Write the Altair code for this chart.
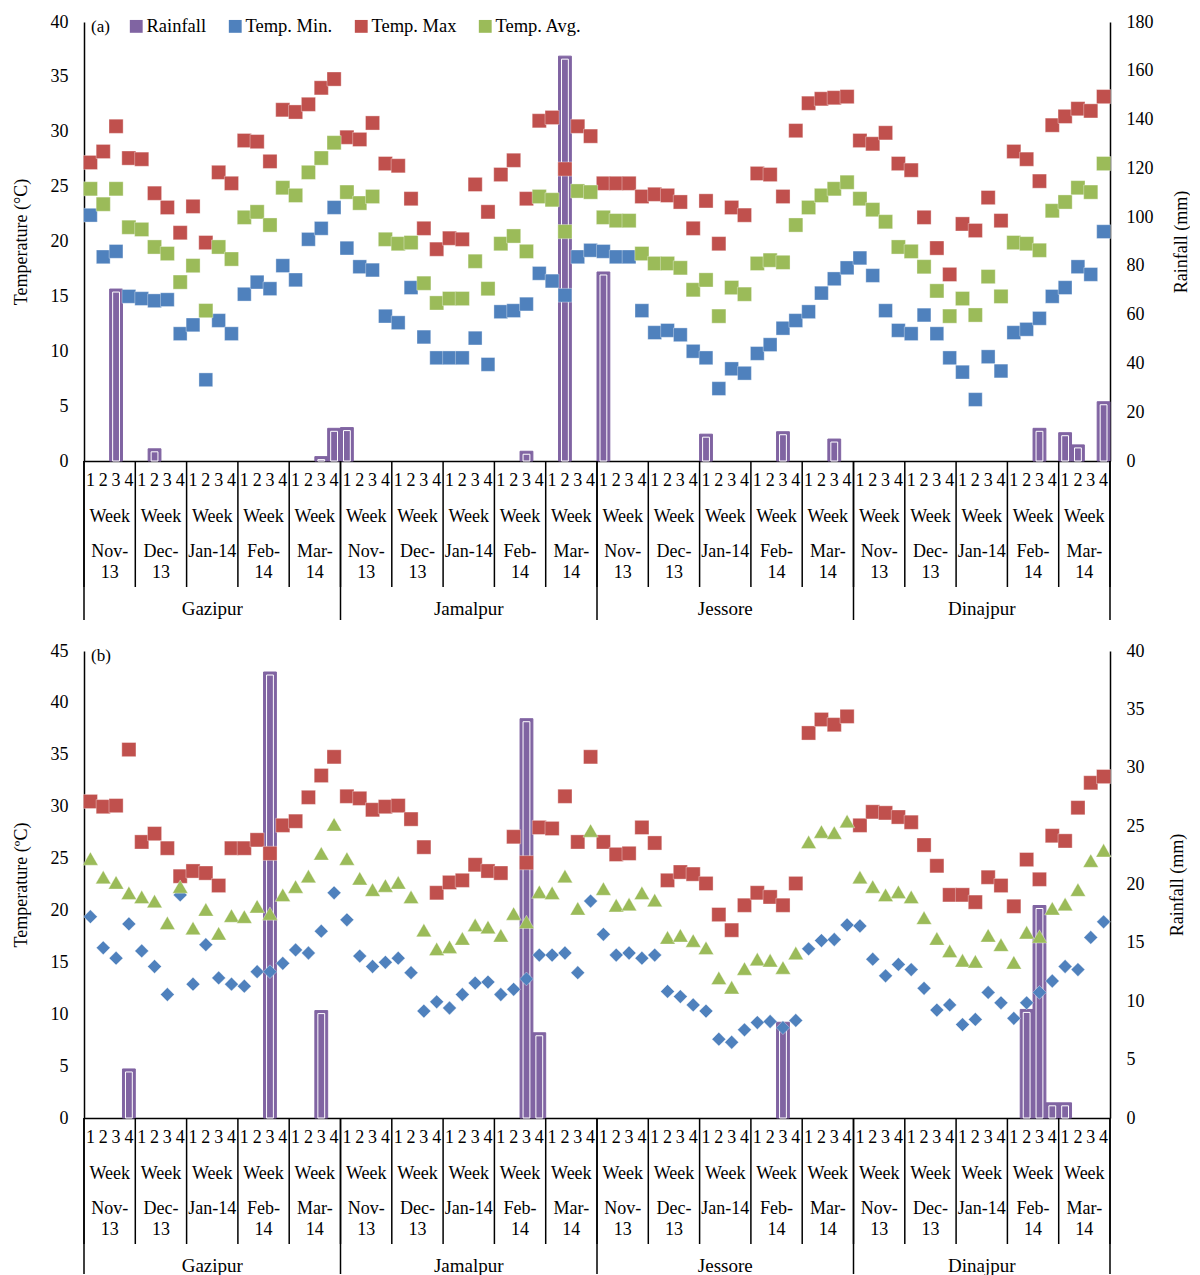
import altair as alt
import pandas as pd

FONT = "Liberation Serif"
PURPLE = "#8064A2"
BLUE = "#4F81BD"
RED = "#C0504D"
GREEN = "#9BBB59"

stations = ["Gazipur", "Jamalpur", "Jessore", "Dinajpur"]
months = ["Nov-13", "Dec-13", "Jan-14", "Feb-14", "Mar-14"]
month_top = ["Nov-", "Dec-", "Jan-14", "Feb-", "Mar-"]
month_bottom = ["13", "13", "", "14", "14"]
week_numbers = [1, 2, 3, 4]
week_word = "Week"
legend_names = ["Rainfall", "Temp. Min.", "Temp. Max", "Temp. Avg."]
legend_colors = [PURPLE, BLUE, RED, GREEN]

# ---------------- panel (a) ----------------
a_tmin = [22.4, 18.6, 19.1, 15.0, 14.8, 14.6, 14.7, 11.6, 12.4, 7.4, 12.8, 11.6, 15.2, 16.3, 15.7, 17.8, 16.5, 20.2, 21.2, 23.1,
          19.4, 17.7, 17.4, 13.2, 12.6, 15.8, 11.3, 9.4, 9.4, 9.4, 11.2, 8.8, 13.6, 13.7, 14.3, 17.1, 16.4, 15.1, 18.6, 19.2,
          19.1, 18.6, 18.6, 13.7, 11.7, 11.9, 11.5, 10.0, 9.4, 6.6, 8.4, 8.0, 9.8, 10.6, 12.1, 12.8, 13.6, 15.3, 16.6, 17.6,
          18.5, 16.9, 13.7, 11.9, 11.6, 13.3, 11.6, 9.4, 8.1, 5.6, 9.5, 8.2, 11.7, 12.0, 13.0, 15.0, 15.8, 17.7, 17.0, 20.9]
a_tmax = [27.2, 28.2, 30.5, 27.6, 27.5, 24.4, 23.1, 20.8, 23.2, 19.9, 26.3, 25.3, 29.2, 29.1, 27.3, 32.0, 31.8, 32.5, 34.0, 34.8,
          29.5, 29.3, 30.8, 27.1, 26.9, 23.9, 21.2, 19.3, 20.3, 20.2, 25.2, 22.7, 26.1, 27.4, 23.9, 31.0, 31.3, 26.6, 30.5, 29.6,
          25.3, 25.3, 25.3, 24.1, 24.3, 24.2, 23.6, 21.2, 23.7, 19.8, 23.1, 22.4, 26.2, 26.1, 24.1, 30.1, 32.6, 33.0, 33.1, 33.2,
          29.2, 28.9, 29.9, 27.1, 26.5, 22.2, 19.4, 17.0, 21.6, 21.0, 24.0, 21.9, 28.2, 27.5, 25.5, 30.6, 31.4, 32.1, 31.9, 33.2]
a_tavg = [24.8, 23.4, 24.8, 21.3, 21.1, 19.5, 18.9, 16.3, 17.8, 13.7, 19.5, 18.4, 22.2, 22.7, 21.5, 24.9, 24.2, 26.3, 27.6, 29.0,
          24.5, 23.5, 24.1, 20.2, 19.8, 19.9, 16.2, 14.4, 14.8, 14.8, 18.2, 15.7, 19.8, 20.5, 19.1, 24.1, 23.8, 20.9, 24.6, 24.5,
          22.2, 21.9, 21.9, 18.9, 18.0, 18.0, 17.6, 15.6, 16.5, 13.2, 15.8, 15.2, 18.0, 18.3, 18.1, 21.5, 23.1, 24.2, 24.8, 25.4,
          23.9, 22.9, 21.8, 19.5, 19.1, 17.7, 15.5, 13.2, 14.8, 13.3, 16.8, 15.0, 19.9, 19.8, 19.2, 22.8, 23.6, 24.9, 24.5, 27.1]
a_rain = [0, 0, 70.5, 0, 0, 5, 0, 0, 0, 0, 0, 0, 0, 0, 0, 0, 0, 0, 1.8, 13.4,
          13.7, 0, 0, 0, 0, 0, 0, 0, 0, 0, 0, 0, 0, 0, 4, 0, 0, 166, 0, 0,
          77.5, 0, 0, 0, 0, 0, 0, 0, 11, 0, 0, 0, 0, 0, 12, 0, 0, 0, 9, 0,
          0, 0, 0, 0, 0, 0, 0, 0, 0, 0, 0, 0, 0, 0, 13.4, 0, 11.6, 6.6, 0, 24.3]

# ---------------- panel (b) ----------------
b_tmin = [19.4, 16.4, 15.4, 18.7, 16.1, 14.6, 11.9, 21.5, 12.9, 16.7, 13.5, 12.9, 12.7, 14.1, 14.1, 14.9, 16.2, 15.9, 18.0, 21.7,
          19.1, 15.6, 14.6, 15.0, 15.4, 14.0, 10.3, 11.2, 10.6, 11.9, 13.0, 13.1, 11.9, 12.4, 13.4, 15.7, 15.7, 15.9, 14.0, 20.9,
          17.7, 15.7, 15.9, 15.4, 15.7, 12.2, 11.7, 10.9, 10.3, 7.6, 7.3, 8.5, 9.2, 9.3, 8.7, 9.4, 16.3, 17.1, 17.2, 18.6,
          18.5, 15.3, 13.7, 14.8, 14.3, 12.5, 10.4, 10.9, 9.0, 9.5, 12.1, 11.1, 9.6, 11.1, 12.1, 13.2, 14.6, 14.3, 17.4, 18.9]
b_tmax = [30.5, 30.0, 30.1, 35.5, 26.6, 27.4, 26.0, 23.3, 23.8, 23.6, 22.4, 26.0, 26.0, 26.8, 25.5, 28.2, 28.6, 30.9, 33.0, 34.8,
          31.0, 30.8, 29.7, 30.0, 30.1, 28.8, 26.1, 21.7, 22.7, 22.9, 24.4, 23.8, 23.6, 27.1, 24.6, 28.0, 27.9, 31.0, 26.6, 34.8,
          26.6, 25.4, 25.5, 28.0, 26.5, 22.9, 23.7, 23.5, 22.6, 19.6, 18.1, 20.5, 21.7, 21.3, 20.5, 22.6, 37.1, 38.4, 37.9, 38.7,
          28.2, 29.5, 29.4, 29.0, 28.5, 26.3, 24.3, 21.5, 21.5, 20.8, 23.2, 22.4, 20.4, 24.9, 23.0, 27.2, 26.7, 29.9, 32.3, 32.9]
b_tavg = [25.0, 23.2, 22.7, 21.7, 21.3, 20.9, 18.8, 22.3, 18.3, 20.1, 17.8, 19.5, 19.4, 20.4, 19.7, 21.5, 22.3, 23.3, 25.5, 28.3,
          25.0, 23.1, 22.0, 22.4, 22.7, 21.3, 18.1, 16.3, 16.5, 17.3, 18.6, 18.4, 17.6, 19.7, 18.9, 21.8, 21.7, 23.3, 20.2, 27.7,
          22.1, 20.5, 20.6, 21.7, 21.0, 17.4, 17.6, 17.1, 16.4, 13.5, 12.6, 14.4, 15.3, 15.2, 14.5, 15.9, 26.6, 27.6, 27.5, 28.6,
          23.2, 22.3, 21.5, 21.8, 21.3, 19.3, 17.3, 16.1, 15.2, 15.1, 17.6, 16.7, 15.0, 17.9, 17.5, 20.2, 20.6, 22.0, 24.8, 25.8]
b_rain = [0, 0, 0, 4.2, 0, 0, 0, 0, 0, 0, 0, 0, 0, 0, 38.2, 0, 0, 0, 9.2, 0,
          0, 0, 0, 0, 0, 0, 0, 0, 0, 0, 0, 0, 0, 0, 34.2, 7.3, 0, 0, 0, 0,
          0, 0, 0, 0, 0, 0, 0, 0, 0, 0, 0, 0, 0, 0, 8.2, 0, 0, 0, 0, 0,
          0, 0, 0, 0, 0, 0, 0, 0, 0, 0, 0, 0, 0, 9.3, 18.2, 1.3, 1.3, 0, 0, 0]

NW = len(week_numbers)
NM = len(months)
N = len(stations) * NM * NW

# label tables (derived from the category lists)
week_df = pd.DataFrame({"xc": [i + 0.5 for i in range(N)],
                        "label": [str(week_numbers[i % NW]) for i in range(N)]})
mrows = []
for s in range(len(stations)):
    for m in range(NM):
        k = s * NM + m
        mrows.append({"xc": k * NW + NW / 2, "word": week_word,
                      "top": month_top[m], "bottom": month_bottom[m]})
month_df = pd.DataFrame(mrows)
station_df = pd.DataFrame({"xc": [s * NM * NW + NM * NW / 2 for s in range(len(stations))],
                           "name": stations})
bound_df = pd.DataFrame({"x": [k * NW for k in range(len(stations) * NM + 1)]})
bound_df["station"] = bound_df["x"] % (NM * NW) == 0


def panel(tmin, tmax, tavg, rain, h, tdom, rdom, rstep, ttitle, tag, show_legend,
          shapes, sizes, rtitle_pad, st_line_end, st_text):
    rain_df = pd.DataFrame({"x0": list(range(N)), "x1": [i + 1 for i in range(N)],
                            "rain": rain, "base": [0] * N, "series": ["Rainfall"] * N})
    trows = []
    for name, vals in zip(legend_names[1:], [tmin, tmax, tavg]):
        for i, v in enumerate(vals):
            trows.append({"xc": i + 0.5, "value": v, "series": name})
    temp_df = pd.DataFrame(trows)

    xs = alt.Scale(domain=[0, N], nice=False, zero=False)
    xaxis = alt.Axis(labels=False, ticks=False, grid=False, title=None,
                     domainColor="black", domainWidth=1.5)

    def X(f):
        return alt.X(f, type="quantitative", scale=xs, axis=xaxis)

    cs = alt.Scale(domain=legend_names, range=legend_colors)
    if show_legend:
        leg = alt.Legend(orient="none", legendX=43, legendY=-5, direction="horizontal",
                         title=None, symbolType="square", symbolSize=165,
                         symbolStrokeWidth=0, symbolOpacity=1, labelFont=FONT,
                         labelFontSize=18.5, labelColor="black", columnPadding=19,
                         labelOffset=1, padding=0)
    else:
        leg = None

    rscale = alt.Scale(domain=[0, rdom], nice=False, zero=True)
    raxis = alt.Axis(orient="right", values=list(range(0, rdom + 1, rstep)), ticks=False,
                     grid=False, domainColor="black", domainWidth=1.5, labelFont=FONT,
                     labelFontSize=18, labelColor="black", labelPadding=16,
                     labelFlush=False, title="Rainfall (mm)", titleFont=FONT,
                     titleFontSize=18, titleFontWeight="normal", titleColor="black",
                     titleAngle=270, titleBaseline="top", titlePadding=rtitle_pad)
    bars = alt.Chart(rain_df).transform_filter("datum.rain > 0").mark_rect(
        stroke=PURPLE, strokeWidth=1, opacity=1
    ).encode(
        x=X("x0"), x2="x1",
        y=alt.Y("rain:Q", scale=rscale, axis=raxis), y2="base",
        color=alt.Color("series:N", scale=cs, legend=leg),
    )
    inner = alt.Chart(rain_df).transform_filter("datum.rain > 0").mark_rect(
        filled=False, stroke="white", strokeWidth=1, xOffset=3, x2Offset=-3, yOffset=3
    ).encode(
        x=X("x0"), x2="x1",
        y=alt.Y("rain:Q", scale=rscale, axis=raxis), y2="base",
    )

    taxis = alt.Axis(orient="left", values=list(range(0, tdom + 1, 5)), ticks=False,
                     grid=False, domainColor="black", domainWidth=1.5, labelFont=FONT,
                     labelFontSize=18, labelColor="black", labelPadding=16,
                     labelFlush=False, title=ttitle, titleFont=FONT, titleFontSize=18,
                     titleFontWeight="normal", titleColor="black", titlePadding=20)
    tscale = alt.Scale(domain=[0, tdom], nice=False)
    temp_layers = []
    # one layer per series so every marker shape is fixed on the mark itself
    for name, shp, sz in zip(legend_names[1:], shapes, sizes):
        temp_layers.append(
            alt.Chart(temp_df).transform_filter(alt.datum.series == name).mark_point(
                filled=True, opacity=1, shape=shp, size=sz, stroke="white",
                strokeWidth=0.7, strokeOpacity=0.5
            ).encode(
                x=X("xc"),
                y=alt.Y("value:Q", scale=tscale, axis=taxis),
                color=alt.Color("series:N", scale=cs, legend=leg),
            )
        )
    temps = alt.layer(*temp_layers)

    def txt(df, field, yoff, size=18):
        return alt.Chart(df).mark_text(font=FONT, fontSize=size, color="black",
                                       baseline="middle", align="center").encode(
            x=X("xc"), y=alt.value(h + yoff), text=alt.Text(field, type="nominal"))

    month_rules = alt.Chart(bound_df).mark_rule(color="black", strokeWidth=1.5).encode(
        x=X("x"), y=alt.value(h), y2=alt.value(h + 126))
    station_rules = alt.Chart(bound_df).transform_filter("datum.station").mark_rule(
        color="black", strokeWidth=1.5).encode(
        x=X("x"), y=alt.value(h), y2=alt.value(h + st_line_end))
    tag_txt = alt.Chart(pd.DataFrame({"t": [tag]})).mark_text(
        font=FONT, fontSize=17, color="black", align="left", baseline="middle").encode(
        x=alt.value(7), y=alt.value(5), text="t:N")

    base = alt.layer(bars, inner).resolve_scale(y="shared")
    rest = alt.layer(temps, month_rules, station_rules,
                     txt(week_df, "label", 20), txt(month_df, "word", 56),
                     txt(month_df, "top", 91), txt(month_df, "bottom", 112),
                     txt(station_df, "name", st_text, 19), tag_txt)
    return alt.layer(base, rest).resolve_scale(y="independent").properties(width=1026, height=h)


pa = panel(a_tmin, a_tmax, a_tavg, a_rain, 439, 40, 180, 20, "Temperature (°C)", "(a)", True,
           ["square", "square", "square"], [190, 200, 200], 19, 159, 148)
pb = panel(b_tmin, b_tmax, b_tavg, b_rain, 467, 45, 40, 5, "Temperature (ºC)", "(b)", False,
           ["diamond", "square", "triangle-up"], [190, 200, 235], 24, 156, 148)

chart = alt.vconcat(pa, pb, spacing=21).properties(
    padding={"left": 4, "top": 5, "right": 0, "bottom": 0}
).configure_view(strokeWidth=0)

chart.save("out.html", embed_options={"renderer": "svg", "actions": False})
